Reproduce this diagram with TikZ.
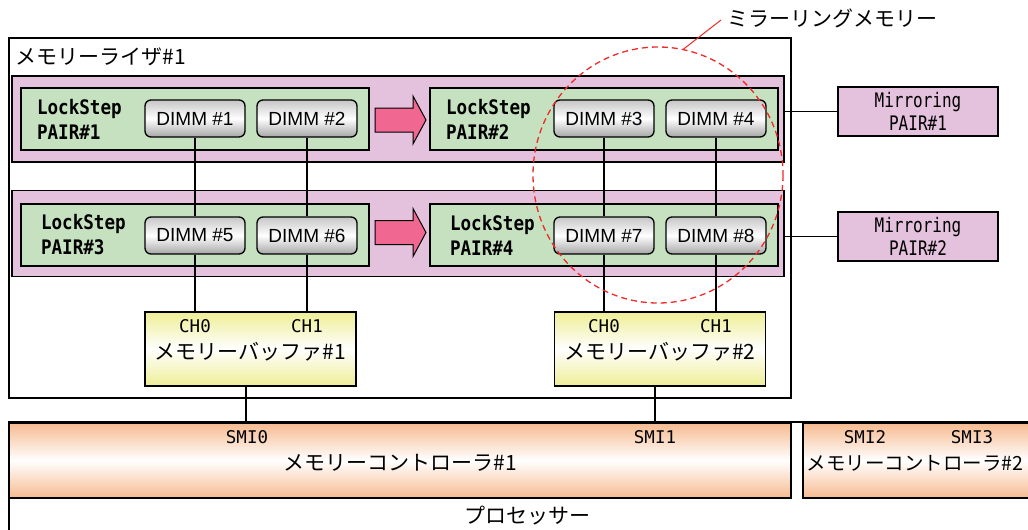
\documentclass[tikz,border=0pt]{standalone}
\usepackage{fontspec}
\setmainfont{Liberation Sans}
\newfontfamily\jpfont{Noto Sans CJK JP}
\newfontfamily\mirfont[FakeStretch=0.8]{DejaVu Sans Mono}
\newfontfamily\lockfont[FakeStretch=0.88]{DejaVu Sans Mono}
\newfontfamily\chfont{DejaVu Sans Mono}
\usetikzlibrary{positioning}
\definecolor{bandpink}{HTML}{E4C1DC}
\definecolor{pairgreen}{HTML}{C5E1C0}
\definecolor{arrowpink}{HTML}{F06792}
\definecolor{bufyellow}{HTML}{EEEE96}
\definecolor{ctlorange}{HTML}{F6BA90}
\definecolor{mirred}{HTML}{EE2A2A}

\begin{document}
\begin{tikzpicture}[x=1pt, y=-1pt, line width=1.3pt,
	box/.style = {draw, inner sep=0pt},
	band/.style = {box, fill=bandpink, minimum width=772, minimum height=86},
	pair/.style = {box, fill=pairgreen, minimum width=348, minimum height=62},
	lock/.style = {font=\lockfont\bfseries\fontsize{20}{25}\selectfont, align=left, inner sep=0pt},
	dimm/.style = {box, rounded corners=6pt, top color=gray!45, bottom color=gray!70, middle color=white,
		minimum width=100, minimum height=37, font=\fontsize{19}{20}\selectfont},
	buffer/.style = {box, top color=bufyellow, bottom color=bufyellow, middle color=white,
		minimum width=211, minimum height=74},
	ctl/.style = {box, top color=ctlorange, bottom color=ctlorange, middle color=white, minimum height=75},
	mirror/.style = {box, fill=bandpink, minimum width=160, minimum height=49, align=center,
		font=\mirfont\fontsize{20}{23}\selectfont},
	jp/.style = {font=\jpfont\fontsize{21}{23}\selectfont, inner sep=0pt},
	ch/.style = {font=\chfont\fontsize{17.5}{19}\selectfont, inner sep=0pt},
	mirline/.style = {draw=mirred, line width=1.3pt, dash pattern=on 6pt off 4pt}]
	\clip (0,0) rectangle (1028,530);
	% processor and controllers
	\draw (9,422) rectangle (1060,560);
	\node[jp] (proc) at (527,516) {プロセッサー};
	\node[ctl, minimum width=782] (ctl1) at (400,460.5) {};
	\node[ctl, minimum width=247] (ctl2) at (926.5,460.5) {};
	\node[jp] (ctl1lbl) at (400,463) {メモリーコントローラ\#1};
	\node[jp, anchor=west, font=\jpfont\fontsize{19.5}{22}\selectfont] (ctl2lbl) at (806,463) {メモリーコントローラ\#2};
	\node[ch] (smi0) at (247,437) {SMI0};
	\node[ch] (smi1) at (655,437) {SMI1};
	\node[ch] (smi2) at (865,437) {SMI2};
	\node[ch] (smi3) at (972,437) {SMI3};
	% riser
	\node[box, minimum width=782, minimum height=360] (riser) at (400,218) {};
	\node[jp, anchor=west] (riserlbl) at (15,57) {メモリーライザ\#1};
	\node[band] (band1) at (398,119) {};
	\node[band] (band2) at (398,233.5) {};
	\node[pair] (pair1) at (195,119) {};
	\node[pair] (pair2) at (604,119) {};
	\node[pair] (pair3) at (195,235) {};
	\node[pair] (pair4) at (604,235) {};
	\node[lock, right=16pt of pair1.west] (lock1) {LockStep\\PAIR\#1};
	\node[lock, right=16pt of pair2.west] (lock2) {LockStep\\PAIR\#2};
	\node[lock, right=20pt of pair3.west] (lock3) {LockStep\\PAIR\#3};
	\node[lock, right=20pt of pair4.west] (lock4) {LockStep\\PAIR\#4};
	\foreach \y in {120,232.5}
		\draw[fill=arrowpink, line width=1pt] (375,\y-12) -- (413,\y-12) -- (413,\y-24) -- (426,\y)
			-- (413,\y+24) -- (413,\y+12) -- (375,\y+12) -- cycle;
	\node[dimm] (d1) at (195,118.5) {DIMM \#1};
	\node[dimm] (d2) at (307,118.5) {DIMM \#2};
	\node[dimm] (d3) at (604,118.5) {DIMM \#3};
	\node[dimm] (d4) at (716,118.5) {DIMM \#4};
	\node[dimm] (d5) at (195,235.5) {DIMM \#5};
	\node[dimm] (d6) at (307,235.5) {DIMM \#6};
	\node[dimm] (d7) at (604,235.5) {DIMM \#7};
	\node[dimm] (d8) at (716,235.5) {DIMM \#8};
	% buffers
	\node[buffer] (buf1) at (250.5,349) {};
	\node[buffer] (buf2) at (660,349) {};
	\node[ch] (ch0a) at (195,326) {CH0};
	\node[ch] (ch1a) at (307,326) {CH1};
	\node[ch] (ch0b) at (604,326) {CH0};
	\node[ch] (ch1b) at (716,326) {CH1};
	\node[jp] (buf1lbl) at (250.5,352) {メモリーバッファ\#1};
	\node[jp] (buf2lbl) at (660,352) {メモリーバッファ\#2};
	% mirroring pairs
	\node[mirror] (mir1) at (918,111.5) {Mirroring\\PAIR\#1};
	\node[mirror] (mir2) at (918,236.5) {Mirroring\\PAIR\#2};
	\draw (mir1.west) -- (mir1.west -| band1.east);
	\draw (mir2.west) -- (mir2.west -| band2.east);
	% wiring
	\draw (d1) -- (d5);
	\draw (d2) -- (d6);
	\draw (d3) -- (d7);
	\draw (d4) -- (d8);
	\draw (d5.south) -- (d5.south |- buf1.north);
	\draw (d6.south) -- (d6.south |- buf1.north);
	\draw (d7.south) -- (d7.south |- buf2.north);
	\draw (d8.south) -- (d8.south |- buf2.north);
	\draw ([xshift=-4.5pt]buf1.south) -- ([xshift=-4.5pt]buf1.south |- ctl1.north);
	\draw ([xshift=-5pt]buf2.south) -- ([xshift=-5pt]buf2.south |- ctl1.north);
	% mirrored memory
	\path[mirline] (658,175) ellipse [x radius=125, y radius=128];
	\coordinate (callout) at (683,49.5);
	\node[jp, anchor=west] (mirlbl) at (727,18) {ミラーリングメモリー};
	\draw[draw=mirred, line width=1pt] (callout) -- ([xshift=-6pt,yshift=-2pt]mirlbl.west);
\end{tikzpicture}
\end{document}
